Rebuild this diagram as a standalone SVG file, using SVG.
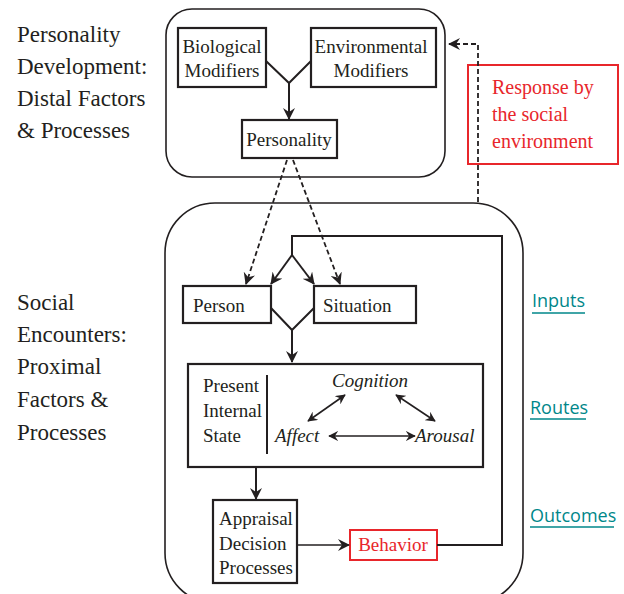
<svg xmlns="http://www.w3.org/2000/svg" width="624" height="594" viewBox="0 0 624 594">
<defs>
<style>
text{font-family:'Liberation Serif','Times New Roman',serif}
.tx{fill:#231f20}
.side{font-size:23px}
.lbl{font-size:19px}
.ital{font-style:italic}
.red{fill:#e8262b}
text.teal{font-family:'Open Sans','Noto Sans',sans-serif;font-size:18px;fill:#00878a}
.box{fill:#fff;stroke:#231f20;stroke-width:2.2}
.rbox{fill:none;stroke:#231f20;stroke-width:1.6}
.redbox{fill:none;stroke:#e8262b;stroke-width:2}
.ln{fill:none;stroke:#231f20;stroke-width:2}
.thin{fill:none;stroke:#231f20;stroke-width:1.6}
.dash{fill:none;stroke:#231f20;stroke-width:1.8;stroke-dasharray:5 3}
.ul{stroke:#00878a;stroke-width:1.5}
</style>
<marker id="ah" viewBox="0 0 12 12" refX="11" refY="6" markerWidth="12" markerHeight="12" markerUnits="userSpaceOnUse" orient="auto">
<path d="M0,0 L12,6 L0,12 L4,6 z" fill="#231f20"/>
</marker>
<marker id="ahs" viewBox="0 0 12 12" refX="11" refY="6" markerWidth="10" markerHeight="10" markerUnits="userSpaceOnUse" orient="auto-start-reverse">
<path d="M0,0 L12,6 L0,12 L4,6 z" fill="#231f20"/>
</marker>
</defs>
<rect width="624" height="594" fill="#fff"/>

<g id="labels-left" font-family="Liberation Serif, serif">
<text class="tx side" x="17" y="42">Personality</text>
<text class="tx side" x="17" y="74">Development:</text>
<text class="tx side" x="17" y="106">Distal Factors</text>
<text class="tx side" x="17" y="138">&amp; Processes</text>
<text class="tx side" x="17" y="310">Social</text>
<text class="tx side" x="17" y="342">Encounters:</text>
<text class="tx side" x="17" y="374">Proximal</text>
<text class="tx side" x="17" y="407">Factors &amp;</text>
<text class="tx side" x="17" y="440">Processes</text>
</g>

<g id="distal-frame"><rect class="rbox" x="166" y="9" width="279" height="168" rx="26"/></g>
<g id="proximal-frame"><rect class="rbox" x="165" y="203" width="358" height="400" rx="50"/></g>

<g id="biological">
<rect class="box" x="178" y="28" width="88" height="59"/>
<text class="tx lbl" x="222" y="53" text-anchor="middle">Biological</text>
<text class="tx lbl" x="222" y="77" text-anchor="middle">Modifiers</text>
</g>
<g id="environmental">
<rect class="box" x="311" y="28" width="125" height="59"/>
<text class="tx lbl" x="371" y="53" text-anchor="middle">Environmental</text>
<text class="tx lbl" x="371" y="77" text-anchor="middle">Modifiers</text>
</g>
<g id="personality">
<rect class="box" x="242" y="120" width="95" height="38"/>
<text class="tx lbl" x="289" y="146" text-anchor="middle">Personality</text>
</g>
<g id="person">
<rect class="box" x="183" y="286" width="88" height="37"/>
<text class="tx lbl" x="193" y="312">Person</text>
</g>
<g id="situation">
<rect class="box" x="314" y="286" width="102" height="37"/>
<text class="tx lbl" x="323" y="312">Situation</text>
</g>
<g id="internal-state">
<rect class="box" x="188" y="364" width="295" height="103"/>
<line class="ln" x1="267" y1="375" x2="267" y2="454"/>
<text class="tx lbl" x="203" y="392">Present</text>
<text class="tx lbl" x="203" y="417">Internal</text>
<text class="tx lbl" x="203" y="442">State</text>
</g>
<g id="cognition"><text class="tx lbl ital" x="332" y="387">Cognition</text></g>
<g id="affect"><text class="tx lbl ital" x="275" y="442">Affect</text></g>
<g id="arousal"><text class="tx lbl ital" x="415" y="442">Arousal</text></g>
<g id="appraisal">
<rect class="box" x="213" y="500" width="84" height="83"/>
<text class="tx lbl" x="219" y="525">Appraisal</text>
<text class="tx lbl" x="219" y="550">Decision</text>
<text class="tx lbl" x="219" y="574">Processes</text>
</g>
<g id="behavior">
<rect class="redbox" x="350" y="530" width="87" height="30"/>
<text class="lbl red" x="393" y="551" text-anchor="middle">Behavior</text>
</g>
<g id="response">
<rect class="redbox" x="468" y="65" width="150" height="99"/>
<text class="red" font-size="20" x="492" y="94">Response by</text>
<text class="red" font-size="20" x="492" y="121">the social</text>
<text class="red" font-size="20" x="492" y="148">environment</text>
</g>
<g id="stage-labels">
<text class="teal" x="532" y="307">Inputs</text>
<line class="ul" x1="532" y1="313" x2="585" y2="313"/>
<text class="teal" x="530" y="414">Routes</text>
<line class="ul" x1="530" y1="419" x2="586" y2="419"/>
<text class="teal" x="530" y="522">Outcomes</text>
<line class="ul" x1="530" y1="527" x2="614" y2="527"/>
</g>

<g id="connectors">
<path class="ln" d="M266,61 L289,83 L311,61"/>
<path class="ln" d="M289,83 L289,119" marker-end="url(#ah)"/>
<path class="dash" d="M287,160 L246,284" marker-end="url(#ah)"/>
<path class="dash" d="M293,160 L340,284" marker-end="url(#ah)"/>
<path class="ln" d="M437,545 L502,545 L502,236 L292,236 L292,255"/>
<path class="ln" d="M292,255 L271,284" marker-end="url(#ah)"/>
<path class="ln" d="M292,255 L314,284" marker-end="url(#ah)"/>
<path class="ln" d="M271,308 L292,330 L314,308"/>
<path class="ln" d="M292,330 L292,362" marker-end="url(#ah)"/>
<path class="ln" d="M256,467 L256,499" marker-end="url(#ah)"/>
<path class="thin" d="M297,545 L349,545" marker-end="url(#ah)"/>
<path class="thin" d="M308,421 L345,395" marker-start="url(#ahs)" marker-end="url(#ahs)"/>
<path class="thin" d="M396,395 L435,421" marker-start="url(#ahs)" marker-end="url(#ahs)"/>
<path class="thin" d="M329,436 L415,436" marker-start="url(#ahs)" marker-end="url(#ahs)"/>
<path class="dash" d="M478,202 L478,44 L449,44" marker-end="url(#ah)"/>
</g>
</svg>
